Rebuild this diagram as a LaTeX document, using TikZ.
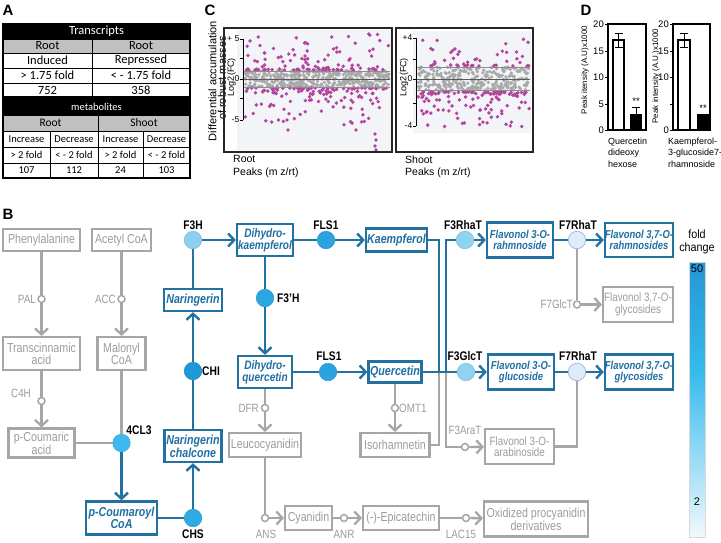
\documentclass[tikz,border=0pt]{standalone}
\usepackage{fontspec}
\setmainfont{Liberation Sans}
\newfontfamily\nar[FakeStretch=0.82]{Liberation Sans}
\newfontfamily\narc[FakeStretch=0.9]{Liberation Sans}
\newfontfamily\carl{Carlito}
\usetikzlibrary{arrows.meta}
\definecolor{bl}{HTML}{2271A0}
\definecolor{bltext}{HTML}{1F6FA2}
\definecolor{gl}{HTML}{A6A6A6}
\definecolor{gtext}{HTML}{9C9C9C}
\definecolor{tgray}{HTML}{C0C0C0}
\definecolor{plotbg}{HTML}{F3F4F8}
\definecolor{pgray}{HTML}{A9A9A9}
\definecolor{pmag}{HTML}{B3449F}
\definecolor{cF3H}{HTML}{8CCFF0}
\definecolor{cFLS}{HTML}{2AA4E0}
\definecolor{cF3pH}{HTML}{2BA6E1}
\definecolor{cCHI}{HTML}{1E98D7}
\definecolor{cCHS}{HTML}{2EABE4}
\definecolor{c4CL}{HTML}{3CB9EE}
\definecolor{cF3R}{HTML}{8FD2F2}
\definecolor{cF7R}{HTML}{DCECF8}
\definecolor{cb1}{HTML}{2596D3}
\definecolor{cb2}{HTML}{35BBEC}
\definecolor{cb3}{HTML}{F2F9FD}
\tikzset{
  gbox/.style={draw=gl, line width=2.1pt, text=gtext, align=center, inner sep=0pt, font=\nar\fontsize{13}{12}\selectfont},
  gboxs/.style={gbox, font=\nar\fontsize{12}{11.5}\selectfont},
  bbox/.style={draw=bl, line width=2.3pt, text=bltext, align=center, inner sep=0pt, font=\nar\bfseries\itshape\fontsize{13}{12}\selectfont},
  bboxm/.style={bbox, font=\nar\bfseries\itshape\fontsize{12.3}{12}\selectfont},
  bboxs/.style={bbox, font=\nar\bfseries\itshape\fontsize{11.5}{11.5}\selectfont},
  enz/.style={circle, inner sep=0pt, minimum size=17.5pt, fill=#1, draw=#1!88!black, line width=0.5pt},
  gc/.style={circle, draw=gl, fill=white, line width=1.5pt, inner sep=0pt, minimum size=7pt},
  elab/.style={font=\nar\bfseries\fontsize{12.5}{13}\selectfont, inner sep=0pt},
  glab/.style={font=\nar\fontsize{12}{13}\selectfont, text=gtext, inner sep=0pt},
  bln/.style={draw=bl, line width=2.4pt},
  gln/.style={draw=gl, line width=2.3pt},
  arr/.style={-{Straight Barb[length=6pt,width=13pt]}},
  plet/.style={font=\bfseries\fontsize{15}{15}\selectfont, inner sep=0pt},
  tone/.style={font=\carl\fontsize{12.5}{13}\selectfont, inner sep=0pt},
  ttwo/.style={font=\carl\fontsize{10.5}{11}\selectfont, inner sep=0pt},
  clab/.style={font=\fontsize{10.5}{12}\selectfont, inner sep=0pt},
  tlab/.style={font=\fontsize{8.5}{9}\selectfont, inner sep=0pt},
  dlab/.style={font=\fontsize{9.5}{10}\selectfont, inner sep=0pt},
  dtxt/.style={font=\fontsize{9}{11}\selectfont, inner sep=0pt, anchor=west},
}
\begin{document}
\begin{tikzpicture}[x=1pt,y=-1pt]
\useasboundingbox (0,0) rectangle (721,542);
\fill[white] (0,0) rectangle (721,542);

% panel letters
\node[plet] (lA) at (8,10) {A};
\node[plet] (lC) at (210,10) {C};
\node[plet] (lD) at (586,10) {D};
\node[plet] (lB) at (8,214) {B};

% ---------------- Panel A tables
\fill[black] (3,24) rectangle (190,39);
\fill[tgray] (3,39) rectangle (190,53);
\draw[line width=0.9pt] (3,39)--(190,39) (3,53)--(190,53) (3,68)--(190,68) (3,83)--(190,83) (92,39)--(92,97);
\draw[line width=1.3pt] (3,24) rectangle (190,97);
\node[tone, text=white] (tA0) at (96.5,31.5) {Transcripts};
\node[tone] (tA1) at (47.5,46) {Root};
\node[tone] (tA2) at (141,46) {Root};
\node[tone] (tA3) at (47.5,60.5) {Induced};
\node[tone] (tA4) at (141,60.5) {Repressed};
\node[tone] (tA5) at (47.5,75.5) {> 1.75 fold};
\node[tone] (tA6) at (141,75.5) {< - 1.75 fold};
\node[tone] (tA7) at (47.5,90) {752};
\node[tone] (tA8) at (141,90) {358};

\fill[black] (3,99) rectangle (190,115);
\fill[tgray] (3,115) rectangle (190,131);
\draw[line width=0.9pt] (3,115)--(190,115) (3,131)--(190,131) (3,147)--(190,147) (3,163)--(190,163) (98,115)--(98,178) (50,131)--(50,178) (143,131)--(143,178);
\draw[line width=1.3pt] (3,99) rectangle (190,178);
\node[ttwo, text=white] (tB0) at (96.5,107) {metabolites};
\node[ttwo, font=\carl\fontsize{11.5}{12}\selectfont] (tB1) at (50.5,123) {Root};
\node[ttwo, font=\carl\fontsize{11.5}{12}\selectfont] (tB2) at (144,123) {Shoot};
\node[ttwo] (tB3) at (26.5,139) {Increase};
\node[ttwo] (tB4) at (74,139) {Decrease};
\node[ttwo] (tB5) at (120.5,139) {Increase};
\node[ttwo] (tB6) at (166.5,139) {Decrease};
\node[ttwo] (tB7) at (26.5,155) {> 2 fold};
\node[ttwo] (tB8) at (74,155) {< - 2 fold};
\node[ttwo] (tB9) at (120.5,155) {> 2 fold};
\node[ttwo] (tB10) at (166.5,155) {< - 2 fold};
\node[ttwo] (tB11) at (26.5,170.5) {107};
\node[ttwo] (tB12) at (74,170.5) {112};
\node[ttwo] (tB13) at (120.5,170.5) {24};
\node[ttwo] (tB14) at (166.5,170.5) {103};

% ---------------- Panel C
\fill[plotbg] (237,30) rectangle (391,151);
\fill[plotbg] (413,31) rectangle (531,133);
\pgfmathsetseed{2718}
\foreach \i in {1,...,420}{%
  \pgfmathsetmacro\px{245+144*rnd}%
  \pgfmathsetmacro\py{79+18*(rnd-0.5)}%
  \fill[pgray] (\px,\py) circle[radius=1.8];}
\foreach \i in {1,...,105}{%
  \pgfmathsetmacro\px{245+144*rnd}%
  \pgfmathsetmacro\rr{rnd}%
  \pgfmathsetmacro\py{70-37*\rr*\rr*sqrt(\rr)}%
  \fill[pmag] (\px,\py) circle[radius=1.9];}
\foreach \i in {1,...,130}{%
  \pgfmathsetmacro\px{245+144*rnd}%
  \pgfmathsetmacro\rr{rnd}%
  \pgfmathsetmacro\py{88+37*\rr*\rr*sqrt(\rr)}%
  \fill[pmag] (\px,\py) circle[radius=1.9];}
\foreach \q in {(375,134),(376,140),(375,146),(376,150),(356,130),(288,130)}{\fill[pmag] \q circle[radius=1.9];}
\foreach \i in {1,...,300}{%
  \pgfmathsetmacro\px{418+112*rnd}%
  \pgfmathsetmacro\py{79+24*(rnd-0.5)}%
  \fill[pgray] (\px,\py) circle[radius=1.8];}
\foreach \i in {1,...,45}{%
  \pgfmathsetmacro\px{418+112*rnd}%
  \pgfmathsetmacro\rr{rnd}%
  \pgfmathsetmacro\py{66-27*\rr*\rr*sqrt(\rr)}%
  \fill[pmag] (\px,\py) circle[radius=1.9];}
\foreach \i in {1,...,120}{%
  \pgfmathsetmacro\px{418+112*rnd}%
  \pgfmathsetmacro\rr{rnd}%
  \pgfmathsetmacro\py{92+36*\rr*\rr*sqrt(\rr)}%
  \fill[pmag] (\px,\py) circle[radius=1.9];}
% reference lines
\draw[black!65, line width=0.8pt] (243,79) -- (390,79);
\draw[black!45, line width=0.5pt] (243,71) -- (390,71) (243,87) -- (390,87);
\draw[black!65, line width=0.8pt] (416,79) -- (530,79);
\draw[black!45, line width=0.5pt] (416,67) -- (530,67) (416,90) -- (530,90);
% axes
\draw[line width=0.8pt] (243,39) -- (243,120);
\foreach \yy in {39,58,79,98,120}{\draw[line width=0.8pt] (240,\yy) -- (243,\yy);}
\draw[line width=0.8pt] (416,38) -- (416,126);
\foreach \yy in {38,59,79,103,126}{\draw[line width=0.8pt] (413,\yy) -- (416,\yy);}
\node[tlab, anchor=east] (cy1) at (239.5,39) {+ 5};
\node[tlab, anchor=east] (cy2) at (239.5,79) {0};
\node[tlab, anchor=east] (cy3) at (239.5,120) {-5};
\node[tlab, anchor=east] (cy4) at (412.5,38) {+4};
\node[tlab, anchor=east] (cy5) at (412.5,79) {0};
\node[tlab, anchor=east] (cy6) at (412.5,126) {-4};
\node[tlab, font=\fontsize{9}{9}\selectfont] (clog1) at (231.5,77) {\rotatebox{90}{Log2(FC)}};
\node[tlab, font=\fontsize{9}{9}\selectfont] (clog2) at (404,77) {\rotatebox{90}{Log2(FC)}};
\node[clab, font=\fontsize{11}{11}\selectfont] (cdiffa) at (212.5,81) {\rotatebox{90}{Differential accumulation}};
\node[clab, font=\fontsize{11}{11}\selectfont] (cdiffb) at (222,78) {\rotatebox{90}{of robust masses}};
% frames
\draw[black!85, line width=1.5pt] (224,28) rectangle (392,152);
\draw[black!85, line width=1.5pt] (396,28) rectangle (533,152);
\node[clab, anchor=west] (croot) at (233,159) {Root};
\node[clab, anchor=west] (cpk1) at (233,172.5) {Peaks (m z/rt)};
\node[clab, anchor=west] (cshoot) at (405,160) {Shoot};
\node[clab, anchor=west] (cpk2) at (405,172.5) {Peaks (m z/rt)};

% ---------------- Panel D
\draw[line width=1.2pt] (608,24) rectangle (646,130);
\foreach \yy/\lab in {24/20,51/15,77/10,104/5,130/0}{%
  \draw[line width=1pt] (605,\yy) -- (608,\yy);
  \node[dlab, anchor=east] (dl\lab) at (604,\yy) {\lab};}
\draw[line width=1.2pt, fill=white] (613,130) rectangle (624,40);
\draw[line width=1pt] (618.5,33) -- (618.5,47) (614.5,33) -- (622.5,33) (614.5,47) -- (622.5,47);
\fill[black] (630,130) rectangle (642,114);
\draw[line width=1pt] (636,107) -- (636,114) (632,107) -- (640,107);
\node[dlab] (dst1) at (636,101.5) {**};
\node[dlab, font=\fontsize{8}{8}\selectfont] (dyl1) at (585,70) {\rotatebox{90}{Peak itensity (A.U)x1000}};
\node[dtxt] (dq1) at (608,142) {Quercetin};
\node[dtxt] (dq2) at (608,153.5) {dideoxy};
\node[dtxt] (dq3) at (608,164.5) {hexose};

\draw[line width=1.2pt] (673,24) rectangle (710,130);
\foreach \yy/\lab in {24/20,51/15,77/10,130/0}{%
  \draw[line width=1pt] (670,\yy) -- (673,\yy);
  \node[dlab, anchor=east] (dr\lab) at (669,\yy) {\lab};}
\draw[line width=1pt] (670,104) -- (673,104);
\draw[line width=1.2pt, fill=white] (678,130) rectangle (690,40);
\draw[line width=1pt] (684,33) -- (684,47) (680,33) -- (688,33) (680,47) -- (688,47);
\fill[black] (697,130) rectangle (709,114);
\node[dlab] (dst2) at (703,108) {**};
\node[dlab, font=\fontsize{8}{8}\selectfont] (dyl2) at (656,76) {\rotatebox{90}{Peak intensity (A.U.)x1000}};
\node[dtxt] (dk1) at (668,142) {Kaempferol-};
\node[dtxt] (dk2) at (668,153.5) {3-glucoside7-};
\node[dtxt] (dk3) at (668,164.5) {rhamnoside};

% ---------------- Panel B : nodes
% gray boxes
\node[gbox, minimum width=77pt, minimum height=22pt] (phe) at (41.5,240) {Phenylalanine};
\node[gbox, minimum width=59pt, minimum height=22pt] (acc) at (121.5,240) {Acetyl CoA};
\node[gbox, minimum width=77pt, minimum height=33pt] (tca) at (41.5,353.5) {Transcinnamic\\acid};
\node[gbox, minimum width=48pt, minimum height=33pt] (mal) at (121.5,353.5) {Malonyl\\CoA};
\node[gbox, minimum width=66pt, minimum height=29pt] (pca) at (41.5,443) {p-Coumaric\\acid};
\node[gbox, minimum width=72pt, minimum height=24pt] (leu) at (265,445) {Leucocyanidin};
\node[gbox, minimum width=69pt, minimum height=24pt] (iso) at (395,445) {Isorhamnetin};
\node[gbox, minimum width=47pt, minimum height=24pt] (cya) at (308.5,518) {Cyanidin};
\node[gbox, minimum width=76pt, minimum height=24pt] (epi) at (401,518) {(-)-Epicatechin};
\node[gbox, minimum width=104pt, minimum height=35pt] (oxi) at (536,519) {Oxidized procyanidin\\derivatives};
\node[gboxs, minimum width=69pt, minimum height=35pt] (ara) at (519.5,446.5) {Flavonol 3-O-\\arabinoside};
\node[gboxs, minimum width=70pt, minimum height=35pt] (f37gg) at (638,304.5) {Flavonol 3,7-O-\\glycosides};
% blue boxes
\node[bbox, minimum width=71pt, minimum height=33pt] (pcoa) at (121.5,518) {p-Coumaroyl\\CoA};
\node[bbox, minimum width=57pt, minimum height=32pt] (nch) at (193,446) {Naringerin\\chalcone};
\node[bbox, minimum width=58pt, minimum height=22pt] (nar) at (193,300) {Naringerin};
\node[bboxm, minimum width=56pt, minimum height=32pt] (dhk) at (265,240) {Dihydro-\\kaempferol};
\node[bbox, minimum width=61pt, minimum height=23pt] (kae) at (396.5,240) {Kaempferol};
\node[bboxm, minimum width=54pt, minimum height=32pt] (dhq) at (265,372) {Dihydro-\\quercetin};
\node[bbox, minimum width=53pt, minimum height=21pt] (que) at (395,372) {Quercetin};
\node[bboxs, minimum width=66pt, minimum height=35pt] (f3r) at (520,240) {Flavonol 3-O-\\rahmnoside};
\node[bboxs, minimum width=68pt, minimum height=34pt] (f37r) at (639,240) {Flavonol 3,7-O-\\rahmnosides};
\node[bboxs, minimum width=66pt, minimum height=35pt] (f3g) at (521,372) {Flavonol 3-O-\\glucoside};
\node[bboxs, minimum width=68pt, minimum height=35pt] (f37gb) at (639,372) {Flavonol 3,7-O-\\glycosides};
% enzymes
\node[enz=cF3H] (f3h) at (193,240) {};
\node[enz=cFLS] (fls1) at (326,240) {};
\node[enz=cF3pH] (f3ph) at (265,298) {};
\node[enz=cFLS] (fls2) at (328,372) {};
\node[enz=cCHI] (chi) at (193,371) {};
\node[enz=c4CL] (cl4) at (121.5,443) {};
\node[enz=cCHS] (chs) at (193,518) {};
\node[enz=cF3R] (f3rh) at (465,240) {};
\node[enz=cF3R] (f3gt) at (466,372) {};
\node[enz=cF7R, draw=cF7R!75!blue!60!gray] (f7ra) at (577,240) {};
\node[enz=cF7R, draw=cF7R!75!blue!60!gray] (f7rb) at (577,372) {};
\node[elab] (lf3h) at (193,225) {F3H};
\node[elab] (lfls1) at (326,225) {FLS1};
\node[elab, anchor=west] (lf3ph) at (277,298) {F3’H};
\node[elab] (lfls2) at (329,356) {FLS1};
\node[elab, anchor=west] (lchi) at (202,371) {CHI};
\node[elab] (l4cl) at (139,430) {4CL3};
\node[elab] (lchs) at (193,534) {CHS};
\node[elab] (lf3rh) at (463,225) {F3RhaT};
\node[elab] (lf3gt) at (465,356) {F3GlcT};
\node[elab] (lf7ra) at (578,225) {F7RhaT};
\node[elab] (lf7rb) at (578,356) {F7RhaT};
% gray enzymes
\node[gc] (pal) at (41.5,299) {};
\node[gc] (accz) at (121.5,299) {};
\node[gc] (c4h) at (41.5,401) {};
\node[gc] (dfr) at (265,408) {};
\node[gc] (omt) at (395,408) {};
\node[gc] (ans) at (265,518) {};
\node[gc] (anr) at (344,518) {};
\node[gc] (lac) at (466,518) {};
\node[gc] (f3at) at (465,447) {};
\node[gc] (f7gt) at (577,304.5) {};
\node[glab, anchor=east] (lpal) at (36,299) {PAL};
\node[glab, anchor=east] (lacc) at (116,299) {ACC};
\node[glab] (lc4h) at (21,393) {C4H};
\node[glab, anchor=east] (ldfr) at (259,408) {DFR};
\node[glab, anchor=west] (lomt) at (399,408) {OMT1};
\node[glab] (lans) at (266,534) {ANS};
\node[glab] (lanr) at (344,534) {ANR};
\node[glab] (llac) at (461,534) {LAC15};
\node[glab] (lf3at) at (465,430) {F3AraT};
\node[glab, anchor=east] (lf7gt) at (573,304.5) {F7GlcT};
\coordinate (j1) at (439,372);
\coordinate (j2) at (446,372);

% gray connectors
\draw[gln] (phe) -- (pal); \draw[gln,arr] (pal) -- (tca);
\draw[gln] (acc) -- (accz); \draw[gln,arr] (accz) -- (mal);
\draw[gln] (tca) -- (c4h); \draw[gln,arr] (c4h) -- (pca);
\draw[gln] (mal) -- (cl4); \draw[gln] (pca) -- (cl4);
\draw[gln] (dhq) -- (dfr); \draw[gln,arr] (dfr) -- (leu);
\draw[gln] (leu) -- (ans); \draw[gln,arr] (ans) -- (cya);
\draw[gln] (cya) -- (anr); \draw[gln,arr] (anr) -- (epi);
\draw[gln] (epi) -- (lac); \draw[gln,arr] (lac) -- (oxi);
\draw[gln] (que) -- (omt); \draw[gln,arr] (omt) -- (iso);
\draw[gln] (iso.east) -| (j1);
\draw[gln] (j2) |- (f3at); \draw[gln,arr] (f3at) -- (ara);
\draw[gln] (ara.east) -| (f7rb);
\draw[gln] (f7ra) -- (f7gt); \draw[gln,arr] (f7gt) -- (f37gg);
% blue connectors
\draw[bln,arr] (cl4) -- (pcoa);
\draw[bln] (pcoa) -- (chs); \draw[bln,arr] (chs) -- (nch);
\draw[bln] (nch) -- (chi); \draw[bln,arr] (chi) -- (nar);
\draw[bln] (nar) -- (f3h); \draw[bln,arr] (f3h) -- (dhk);
\draw[bln] (dhk) -- (fls1); \draw[bln,arr] (fls1) -- (kae);
\draw[bln] (dhk) -- (f3ph); \draw[bln,arr] (f3ph) -- (dhq);
\draw[bln] (dhq) -- (fls2); \draw[bln,arr] (fls2) -- (que);
\draw[bln] (kae.east) -| (j1);
\draw[bln] (que) -- (f3gt);
\draw[bln] (j2) |- (f3rh); \draw[bln,arr] (f3rh) -- (f3r);
\draw[bln,arr] (f3gt) -- (f3g);
\draw[bln] (f3r) -- (f7ra); \draw[bln,arr] (f7ra) -- (f37r);
\draw[bln] (f3g) -- (f7rb); \draw[bln,arr] (f7rb) -- (f37gb);

% fold change bar
\node[font=\narc\fontsize{12}{13}\selectfont, align=center, inner sep=0pt] (fc) at (697,241.5) {fold\\change};
\shade[top color=cb1, bottom color=cb2] (689,262) rectangle (705,372);
\shade[top color=cb2, bottom color=cb3] (689,372) rectangle (705,537);
\draw[black!15, line width=0.6pt] (689,262) rectangle (705,537);
\node[font=\fontsize{11}{12}\selectfont, inner sep=0pt] (fc50) at (697,269) {50};
\node[font=\fontsize{11}{12}\selectfont, inner sep=0pt] (fc2) at (697,502) {2};
\end{tikzpicture}
\end{document}
